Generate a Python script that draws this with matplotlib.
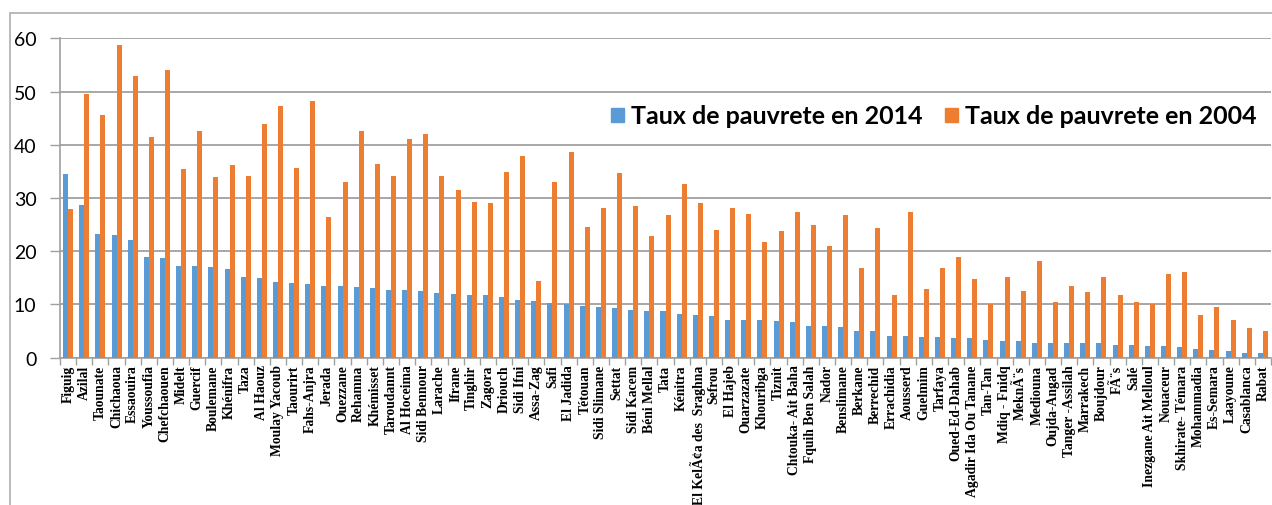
import matplotlib
matplotlib.use("Agg")
import matplotlib.pyplot as plt
import numpy as np
from matplotlib.patches import Rectangle, Patch

provinces = [
    "Figuig", "Azilal", "Taounate", "Chichaoua", "Essaouira", "Youssoufia",
    "Chefchaouen", "Midelt", "Guercif", "Boulemane", "Khénifra", "Taza",
    "Al Haouz", "Moulay Yacoub", "Taourirt", "Fahs-Anjra", "Jerada", "Ouezzane",
    "Rehamna", "Khémisset", "Taroudannt", "Al Hoceima", "Sidi Bennour", "Larache",
    "Ifrane", "Tinghir", "Zagora", "Driouch", "Sidi Ifni", "Assa-Zag", "Safi",
    "El Jadida", "Tétouan", "Sidi Slimane", "Settat", "Sidi Kacem", "Béni Mellal",
    "Tata", "Kénitra", "El KelÃ¢a des  Sraghna", "Sefrou", "El Hajeb",
    "Ouarzazate", "Khouribga", "Tiznit", "Chtouka- Ait Baha", "Fquih Ben Salah",
    "Nador", "Benslimane", "Berkane", "Berrechid", "Errachidia", "Aousserd",
    "Guelmim", "Tarfaya", "Oued-Ed-Dahab", "Agadir Ida Ou Tanane", "Tan-Tan",
    "Mdiq - Fnidq", "MeknÃ¨s", "Mediouna", "Oujda-Angad", "Tanger -Assilah",
    "Marrakech", "Boujdour", "FÃ¨s", "Salé", "Inezgane Ait Melloul", "Nouaceur",
    "Skhirate- Témara", "Mohammadia", "Es-Semara", "Laayoune", "Casablanca",
    "Rabat",
]

taux_2014 = [
    34.5, 28.7, 23.3, 23.0, 22.1, 18.8, 18.7, 17.2, 17.2, 17.0, 16.6, 15.1,
    14.9, 14.1, 14.0, 13.8, 13.5, 13.4, 13.2, 13.1, 12.7, 12.7, 12.5, 12.1,
    11.9, 11.8, 11.7, 11.3, 10.9, 10.6, 10.2, 10.0, 9.6, 9.5, 9.3, 8.9, 8.8,
    8.7, 8.2, 7.9, 7.8, 7.1, 7.1, 7.0, 6.8, 6.7, 5.9, 5.9, 5.7, 5.0, 4.9,
    4.1, 4.1, 3.8, 3.8, 3.7, 3.6, 3.2, 3.1, 3.1, 2.8, 2.8, 2.8, 2.7, 2.7,
    2.4, 2.3, 2.2, 2.1, 2.0, 1.6, 1.5, 1.25, 0.9, 0.8,
]

taux_2004 = [
    27.9, 49.5, 45.6, 58.8, 53.0, 41.5, 54.0, 35.5, 42.6, 33.9, 36.2, 34.1,
    43.9, 47.3, 35.7, 48.3, 26.5, 32.9, 42.6, 36.4, 34.1, 41.0, 42.0, 34.1,
    31.5, 29.2, 29.0, 34.9, 37.9, 14.4, 32.9, 38.6, 24.5, 28.1, 34.6, 28.4,
    22.8, 26.8, 32.7, 29.0, 23.9, 28.1, 26.9, 21.8, 23.8, 27.3, 25.0, 20.9,
    26.7, 16.8, 24.4, 11.8, 27.3, 12.9, 16.8, 18.8, 14.7, 10.0, 15.2, 12.5,
    18.1, 10.5, 13.5, 12.4, 15.2, 11.7, 10.5, 10.0, 15.7, 16.0, 8.0, 9.5,
    7.1, 5.6, 5.0,
]

yticks = [0, 10, 20, 30, 40, 50, 60]

W, H = 1272, 506
fig = plt.figure(figsize=(W / 100, H / 100), dpi=100)

# chart outer border (clipped at the right and bottom like the screenshot)
fig.patches.append(Rectangle((10 / W, -0.2), 1.5, (506 - 14) / H + 0.2,
                             transform=fig.transFigure, fill=False,
                             edgecolor="#b4b4b4", linewidth=1.3))

ax = fig.add_axes([60 / W, (506 - 358.5) / H, 1211 / W, (358.5 - 39.3) / H])

x = np.arange(len(provinces))
bw = 0.31
ax.bar(x - bw / 2, taux_2014, width=bw, color="#5B9BD5", zorder=3)
ax.bar(x + bw / 2, taux_2004, width=bw, color="#ED7D31", zorder=3)

ax.set_xlim(-0.5, len(provinces) - 0.5)
ax.set_ylim(0, 60)
ax.set_yticks(yticks)
ax.set_yticklabels([str(v) for v in yticks], fontfamily="Lato", fontsize=14)
ax.yaxis.grid(True, color="#a0a0a0", linewidth=1.3, zorder=0)
ax.tick_params(axis="y", length=7, width=1.0, color="#a0a0a0", pad=10)

ax.set_xticks(x)
ax.set_xticklabels(provinces, rotation=90, fontfamily="Liberation Serif",
                   fontweight="bold", fontsize=9.8, va="top", ha="center")
ax.set_xticks(np.arange(len(provinces) + 1) - 0.5, minor=True)
ax.tick_params(axis="x", which="major", length=0, pad=5)
ax.tick_params(axis="x", which="minor", length=5, width=1.0, color="#a0a0a0")

for side in ["top", "right"]:
    ax.spines[side].set_visible(False)
for side in ["left", "bottom"]:
    ax.spines[side].set_color("#a0a0a0")
    ax.spines[side].set_linewidth(1.2)

handles = [Patch(color="#5B9BD5", label="Taux de pauvrete en 2014"),
           Patch(color="#ED7D31", label="Taux de pauvrete en 2004")]
fig.legend(handles=handles, loc="center left", ncol=2,
           bbox_to_anchor=(611 / W, (506 - 117) / H), frameon=False,
           prop={"family": "Lato", "weight": "bold", "size": 18},
           handlelength=0.5, handleheight=0.5, handletextpad=0.3,
           columnspacing=0.9, borderpad=0, borderaxespad=0)

fig.savefig("out.png", dpi=100)
